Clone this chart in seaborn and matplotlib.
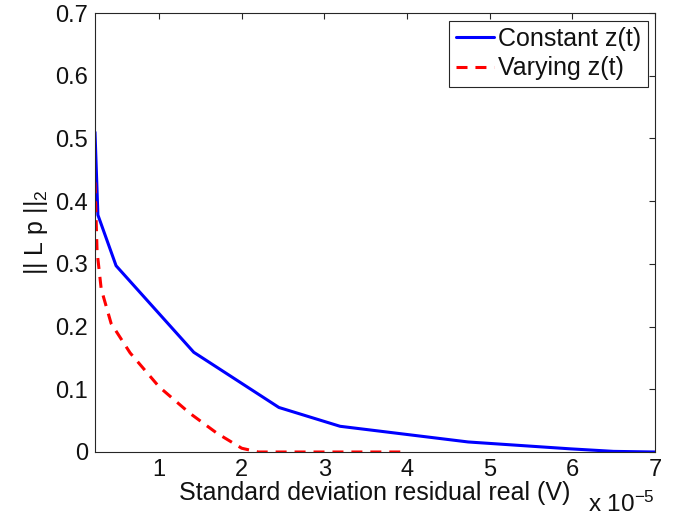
import matplotlib
matplotlib.use("Agg")
import matplotlib.pyplot as plt
import seaborn as sns
import pandas as pd

# Standard deviation of the real residual, in units of 1e-5 V
constant_x = [0.225, 0.26, 0.48, 1.42, 2.45, 3.19, 4.74, 5.98, 6.5, 7.0]
constant_y = [0.51, 0.378, 0.297, 0.159, 0.071, 0.041, 0.016, 0.005, 0.001, 0.0]

varying_x = [0.225, 0.25, 0.30, 0.42, 0.65, 1.0, 1.37, 1.7, 2.0, 2.2, 3.0, 4.0]
varying_y = [0.43, 0.32, 0.26, 0.205, 0.158, 0.104, 0.062, 0.030, 0.006, 0.0, 0.0, 0.0]

series_names = ["Constant z(t)", "Varying z(t)"]
x_ticks = [1, 2, 3, 4, 5, 6, 7]
y_ticks = [0, 0.1, 0.2, 0.3, 0.4, 0.5, 0.6, 0.7]

sns.set_style("white")
plt.rcParams["font.family"] = ["Liberation Sans", "DejaVu Sans"]
plt.rcParams["mathtext.fontset"] = "custom"
plt.rcParams["mathtext.rm"] = "Liberation Sans"
plt.rcParams["mathtext.it"] = "Liberation Sans:italic"
plt.rcParams["mathtext.default"] = "regular"

fig = plt.figure(figsize=(6.77, 5.21), dpi=100)
ax = fig.add_axes([95 / 677, 1 - 452 / 521, 560 / 677, 439 / 521])

df_c = pd.DataFrame({"x": constant_x, "y": constant_y})
df_v = pd.DataFrame({"x": varying_x, "y": varying_y})

sns.lineplot(data=df_c, x="x", y="y", ax=ax, color="#0000ff", lw=2.2,
             sort=False, estimator=None, label=series_names[0])
sns.lineplot(data=df_v, x="x", y="y", ax=ax, color="#ff0000", lw=2.2,
             sort=False, estimator=None, label=series_names[1],
             linestyle=(0, (3.6, 2.6)))

ax.set_xlim(0.225, 7)
ax.set_ylim(0, 0.7)
ax.set_xticks(x_ticks)
ax.set_yticks(y_ticks)
ax.set_xticklabels([str(t) for t in x_ticks])
ax.set_yticklabels(["0" if t == 0 else f"{t:g}" for t in y_ticks])

for s in ax.spines.values():
    s.set_visible(True)
    s.set_color("#262626")
    s.set_linewidth(0.8)

ax.tick_params(direction="in", length=4, width=0.8, color="#262626",
               top=True, right=True, labelsize=17, pad=5, labelcolor="#111111")

ax.set_xlabel("Standard deviation residual real (V)", fontsize=18, labelpad=0,
              color="#111111")
ax.set_ylabel("|| L p ||$_{2}$", fontsize=18, labelpad=4, color="#111111")

ax.text(1.0, -0.12, "x 10$^{-5}$", transform=ax.transAxes, fontsize=17.5,
        ha="right", va="center", color="#111111")

leg = ax.legend(loc="upper right", fontsize=18, frameon=True, fancybox=False,
                edgecolor="#262626", framealpha=1, borderpad=0.25,
                handlelength=1.55, handletextpad=0.15, labelspacing=0.22,
                borderaxespad=0.3)
leg.get_frame().set_linewidth(0.8)
for t in leg.get_texts():
    t.set_color("#111111")

fig.savefig("out.png", dpi=100)
